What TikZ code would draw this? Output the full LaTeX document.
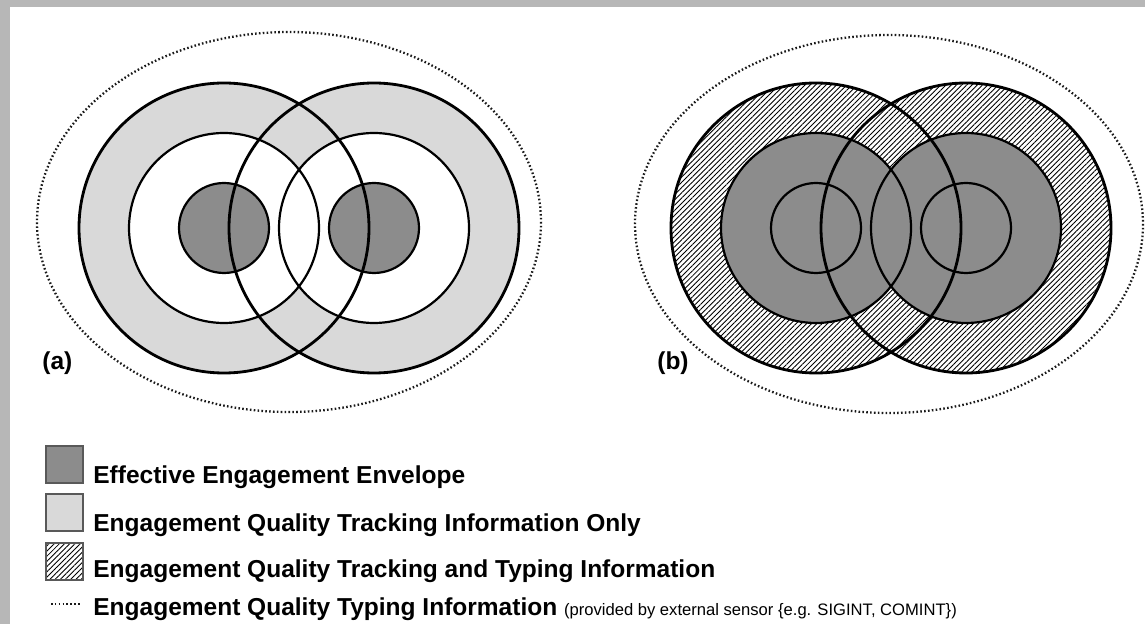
\documentclass[tikz,border=0pt]{standalone}
\usepackage{fontspec}
\setmainfont{Liberation Sans}
\usetikzlibrary{patterns.meta}

\definecolor{envgrey}{HTML}{8C8C8C}
\definecolor{trackgrey}{HTML}{D9D9D9}
\definecolor{framegrey}{HTML}{B7B7B7}

\tikzset{
	outerring/.style={line width=1.6pt},
	innerring/.style={line width=1.25pt},
	typingline/.style={line width=1.3pt, dash pattern=on 0.9pt off 1.3pt, black!90},
	hatched/.style={pattern={Lines[angle=45,distance=2.1pt,line width=0.5pt]}, pattern color=black},
	swatch/.style={draw=black!65, line width=0.8pt},
	legendtext/.style={anchor=base west, inner sep=0pt, font=\bfseries\fontsize{13.95}{16}\selectfont},
}

\begin{document}
\begin{tikzpicture}[x=0.02cm, y=-0.02cm]
		\newcommand\ringpair[3]{ %% argument 1: x-position of left centre, argument 2: outer fill, argument 3: middle fill
			\fill[#2] (#1,228) circle (145) (#1+150,228) circle (145);
			\fill[#3] (#1,228) circle (95) (#1+150,228) circle (95);
			\fill[envgrey] (#1,228) circle (45) (#1+150,228) circle (45);
			\draw[outerring] (#1,228) circle (145) (#1+150,228) circle (145);
			\draw[innerring] (#1,228) circle (95) (#1+150,228) circle (95);
			\draw[innerring] (#1,228) circle (45) (#1+150,228) circle (45);
		}

		% frame
		\fill[framegrey] (0,0) rectangle (1145,624);
		\fill[white] (10,7) rectangle (1145,624);
		\useasboundingbox (0,0) rectangle (1145,624);

		% panels
		\draw[typingline] (289,222) ellipse [x radius=252, y radius=190];
		\draw[typingline] (889,224) ellipse [x radius=254, y radius=189];
		\ringpair{224}{trackgrey}{white}
		\ringpair{816}{hatched}{envgrey}

		\node[legendtext] (labela) at (42,370) {(a)};
		\node[legendtext] (labelb) at (657,370) {(b)};

		% legend
		\filldraw[swatch, fill=envgrey] (46,446) rectangle ++(37,37);
		\filldraw[swatch, fill=trackgrey] (46,494) rectangle ++(37,37);
		\filldraw[swatch, hatched] (46,543) rectangle ++(37,37);
		\draw[typingline] (51,604) -- (80,604);

		\node[legendtext] (envelope) at (93,483) {Effective Engagement Envelope};
		\node[legendtext] (tracking) at (93,531) {Engagement Quality Tracking Information Only};
		\node[legendtext] (trackingtyping) at (93,577) {Engagement Quality Tracking and Typing Information};
		\node[legendtext] (typing) at (93,615) {Engagement Quality Typing Information {\mdseries\fontsize{9.45}{11}\selectfont (provided by external sensor \{e.g. SIGINT, COMINT\})}};
	\end{tikzpicture}
\end{document}
